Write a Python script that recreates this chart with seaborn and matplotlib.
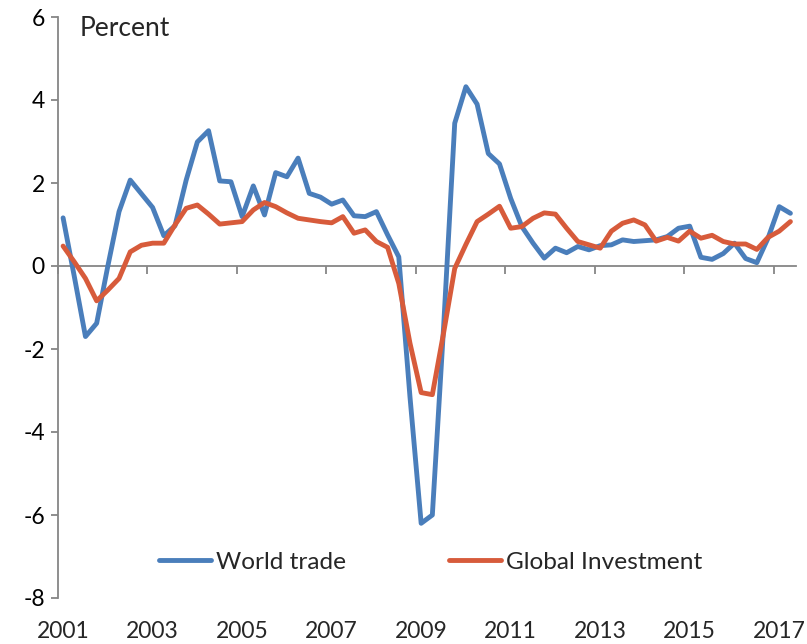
import numpy as np
import pandas as pd
import matplotlib
matplotlib.use("Agg")
import matplotlib.pyplot as plt
import matplotlib.transforms as mtransforms
import seaborn as sns

# Quarterly data 2001Q1 - 2017Q2
quarter_labels = [f"{y}Q{q}" for y in range(2001, 2018) for q in range(1, 5)][:66]
year_labels = ["2001", "2003", "2005", "2007", "2009", "2011", "2013", "2015", "2017"]

world_trade = [
    1.16, -0.25, -1.70, -1.38, 0.00, 1.31, 2.07, 1.74,
    1.41, 0.73, 0.97, 2.07, 2.99, 3.26, 2.05, 2.03,
    1.19, 1.93, 1.23, 2.25, 2.15, 2.60, 1.75, 1.66,
    1.49, 1.59, 1.21, 1.19, 1.31, 0.75, 0.22, -3.15,
    -6.20, -6.00, -1.50, 3.44, 4.32, 3.90, 2.71, 2.46,
    1.63, 0.95, 0.55, 0.19, 0.43, 0.32, 0.47, 0.39,
    0.49, 0.51, 0.63, 0.59, 0.61, 0.63, 0.71, 0.91,
    0.96, 0.21, 0.16, 0.30, 0.55, 0.18, 0.08, 0.67,
    1.43, 1.27,
]
global_investment = [
    0.48, 0.10, -0.30, -0.84, -0.58, -0.30, 0.34, 0.50,
    0.55, 0.55, 0.99, 1.39, 1.47, 1.25, 1.01, 1.04,
    1.07, 1.35, 1.53, 1.43, 1.28, 1.15, 1.11, 1.07,
    1.04, 1.19, 0.79, 0.87, 0.59, 0.45, -0.42, -1.86,
    -3.05, -3.10, -1.62, -0.06, 0.52, 1.07, 1.25, 1.44,
    0.91, 0.95, 1.15, 1.28, 1.25, 0.91, 0.59, 0.51,
    0.43, 0.84, 1.03, 1.11, 0.99, 0.60, 0.69, 0.60,
    0.84, 0.67, 0.74, 0.59, 0.53, 0.53, 0.40, 0.69,
    0.84, 1.07,
]
series_names = ["World trade", "Global Investment"]
colors = ["#4A7EBB", "#D75B3B"]

n = len(world_trade)
df = pd.DataFrame({
    "idx": list(range(n)) * 2,
    "quarter": quarter_labels * 2,
    "value": world_trade + global_investment,
    "series": [series_names[0]] * n + [series_names[1]] * n,
})

sns.set_style("white")
plt.rcParams["font.family"] = ["Lato", "DejaVu Sans"]
plt.rcParams["axes.unicode_minus"] = False

fig = plt.figure(figsize=(8.07, 6.44), dpi=100)
W, H = 807, 644
ax = fig.add_axes([57.5 / W, (H - 598) / H, (796 - 57.5) / W, (598 - 17) / H])

sns.lineplot(data=df, x="idx", y="value", hue="series", palette=colors,
             linewidth=3.5, ax=ax, legend=True, sort=False, zorder=3)

ax.set_xlim(-0.5, n - 0.5)
ax.set_ylim(-8, 6)
ax.set_xlabel("")
ax.set_ylabel("")

axis_gray = "#868686"
fs = 16.5

# Y axis
ax.set_yticks(np.arange(-8, 7, 2))
ax.set_yticklabels([str(v) for v in range(-8, 7, 2)], fontsize=fs)
for side in ["top", "right"]:
    ax.spines[side].set_visible(False)
ax.spines["left"].set_color(axis_gray)
ax.spines["left"].set_linewidth(1.3)
ax.tick_params(axis="y", direction="out", length=5, width=1.3, color=axis_gray,
               pad=4, labelcolor="black", left=True)

# Category axis crossing at zero, tick marks between year groups
ax.spines["bottom"].set_position(("data", 0))
ax.spines["bottom"].set_color(axis_gray)
ax.spines["bottom"].set_linewidth(1.3)
ax.spines["bottom"].set_zorder(1)
label_pos = list(range(0, n, 8))
ax.set_xticks([p - 0.5 for p in label_pos])
ax.set_xticklabels([])
ax.tick_params(axis="x", direction="out", length=6, width=1.3, color=axis_gray, bottom=True)

# Year labels placed at the bottom of the plot area
blend = mtransforms.blended_transform_factory(ax.transData, ax.transAxes)
for p, lab in zip(label_pos, year_labels):
    ax.text(p, -34 / 581, lab, transform=blend, ha="center", va="center", fontsize=fs)

fig.text(80 / W, 1 - 28 / H, "Percent", fontsize=19, va="center", ha="left")

ax.legend(handles=ax.get_lines()[:2], labels=series_names, loc="center",
          bbox_to_anchor=((430.5 - 57.5) / (796 - 57.5), (598 - 562) / (598 - 17)),
          ncol=2, frameon=False, fontsize=17.6, handlelength=2.15,
          columnspacing=4.2, handletextpad=0.2)

fig.savefig("out.png", dpi=100)
